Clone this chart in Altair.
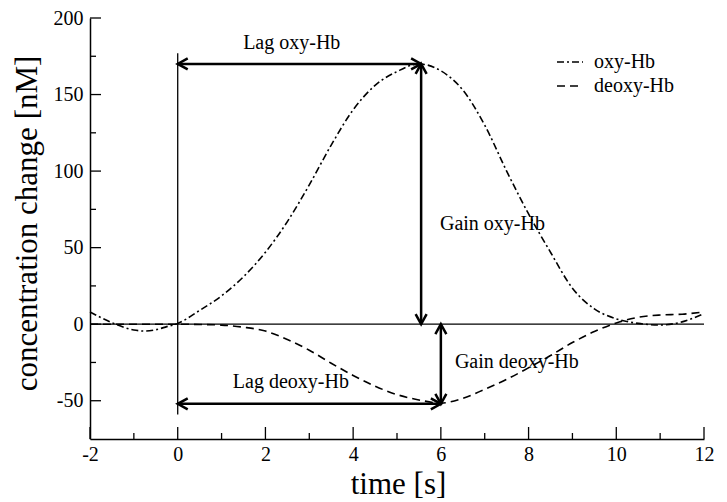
import altair as alt
import pandas as pd

# ---- data ----
t_oxy = [-2.0, -1.5, -1.0, -0.75, -0.5, -0.25, 0.0, 0.5, 1.0, 1.5, 2.0, 2.5, 3.0, 3.5, 4.0, 4.5,
         5.0, 5.5, 6.0, 6.5, 7.0, 7.5, 8.0, 8.5, 9.0, 9.5, 10.0, 10.5, 11.0, 11.5, 12.0]
oxy = [8, 1, -3.8, -4.5, -3.6, -1.6, 0.5, 9, 18.5, 31, 47, 67, 91, 117, 140, 156,
       165, 170, 165.5, 153, 130, 100, 72, 47, 23.5, 10, 3.5, 0.5, -0.5, 1.5, 7]

t_deoxy = [-2.0, -1.0, 0.0, 0.5, 1.0, 1.5, 2.0, 2.5, 3.0, 3.5, 4.0, 4.5, 5.0, 5.5, 6.0,
           6.5, 7.0, 7.5, 8.0, 8.5, 9.0, 9.5, 10.0, 10.5, 11.0, 11.5, 12.0]
deoxy = [0, 0, 0, -0.2, -0.6, -2, -4.5, -10, -17, -25.5, -33.5, -40.5, -46, -49.5, -51.5,
         -48.5, -42.5, -36, -28.5, -20.5, -12, -4.8, 0.8, 4.5, 6, 6.5, 8]

series_names = ["oxy-Hb", "deoxy-Hb"]

# double-headed arrows (start x, start y, end x, end y)
arrow_x1 = [0.0, 5.55, 6.0, 0.0]
arrow_y1 = [170.0, 170.0, 0.0, -52.0]
arrow_x2 = [5.55, 5.55, 6.0, 6.0]
arrow_y2 = [170.0, 0.0, -52.0, -52.0]

# annotations
center_labels = ["Lag oxy-Hb", "Lag deoxy-Hb"]
center_x = [2.6, 2.58]
center_y = [183.5, -37.6]
left_labels = ["Gain oxy-Hb", "Gain deoxy-Hb"]
left_x = [5.98, 6.32]
left_y = [65.5, -24.5]

# reference lines
baseline_y = [0.0]
onset_x = [0.0]
onset_y_from = [-59.0]
onset_y_to = [177.0]

# ticks
x_major = [-2, 0, 2, 4, 6, 8, 10, 12]
x_minor = [-1, 1, 3, 5, 7, 9, 11]
y_major = [-50, 0, 50, 100, 150, 200]
y_minor = [-25, 25, 75, 125, 175]

x_domain = [-2, 12]
y_domain = [-75, 200]

# ---- build tables ----
curves = pd.concat([
    pd.DataFrame({"t": t_oxy, "v": oxy, "s": series_names[0]}),
    pd.DataFrame({"t": t_deoxy, "v": deoxy, "s": series_names[1]}),
], ignore_index=True)

arrows = pd.DataFrame({"x1": arrow_x1, "y1": arrow_y1, "x2": arrow_x2, "y2": arrow_y2})

heads_rows = []
for x1, y1, x2, y2 in zip(arrow_x1, arrow_y1, arrow_x2, arrow_y2):
    for (px, py), (qx, qy) in [((x1, y1), (x2, y2)), ((x2, y2), (x1, y1))]:
        if py == qy:
            ang = 180 if px < qx else 0      # left / right
        else:
            ang = 90 if py < qy else 270     # down / up
        heads_rows.append({"x": px, "y": py, "ang": ang})
heads = pd.DataFrame(heads_rows)

FONT = "Liberation Serif"
W, H = 614, 421

xs = alt.Scale(domain=x_domain, nice=False, zero=False)
ys = alt.Scale(domain=y_domain, nice=False, zero=False)

x_axis = alt.Axis(values=x_major, labelPadding=5, labelFlush=False, labelExpr="'' + datum.value",
                  labelFont=FONT, labelFontSize=20, labelColor="black",
                  titleFont=FONT, titleFontSize=31, titleFontWeight="normal", titleColor="black",
                  titleX=308, titleY=54, titleAlign="center", titleBaseline="alphabetic", titleAngle=0)
y_axis = alt.Axis(values=y_major, labelPadding=7, labelExpr="'' + datum.value",
                  labelFont=FONT, labelFontSize=20, labelColor="black",
                  titleFont=FONT, titleFontSize=31, titleFontWeight="normal", titleColor="black",
                  titleX=-54, titleY=205, titleAlign="center", titleBaseline="alphabetic", titleAngle=270)
X_TITLE = "time [s]"
Y_TITLE = "concentration change [nM]"


def X(field):
    return alt.X(field, scale=xs, axis=x_axis, title=X_TITLE)


def Y(field):
    return alt.Y(field, scale=ys, axis=y_axis, title=Y_TITLE)


line_layer = alt.Chart(curves).mark_line(
    color="black", strokeWidth=1.6, interpolate="monotone"
).encode(
    x=X("t:Q"),
    y=Y("v:Q"),
    strokeDash=alt.StrokeDash("s:N", scale=alt.Scale(domain=series_names, range=[[7, 3, 2, 3], [8, 5]]),
                              legend=alt.Legend(title=None, orient="none", legendX=466, legendY=30,
                                                symbolType="stroke", symbolSize=676,
                                                symbolStrokeWidth=1.6, symbolStrokeColor="black",
                                                labelFont=FONT, labelFontSize=20, labelColor="black",
                                                labelOffset=10, rowPadding=0)),
    detail="s:N",
)

zero_line = alt.Chart(pd.DataFrame({"y": baseline_y})).mark_rule(color="black", strokeWidth=1.3).encode(
    y=Y("y:Q")
)

onset_line = alt.Chart(pd.DataFrame({"x": onset_x, "ya": onset_y_from, "yb": onset_y_to})).mark_rule(
    color="black", strokeWidth=1.3
).encode(
    x=X("x:Q"),
    y=Y("ya:Q"),
    y2="yb:Q",
)

arrow_lines = alt.Chart(arrows).mark_rule(color="black", strokeWidth=2.5).encode(
    x=X("x1:Q"),
    y=Y("y1:Q"),
    x2="x2:Q",
    y2="y2:Q",
)

arrow_heads = alt.Chart(heads).mark_point(
    shape="M -1 -0.55 L 0 0 L -1 0.55", filled=False, color="black", strokeWidth=2.5,
    size=400, opacity=1, strokeJoin="miter"
).encode(
    x=X("x:Q"),
    y=Y("y:Q"),
    angle=alt.Angle("ang:Q", scale=None),
)

txt_center = alt.Chart(pd.DataFrame({"x": center_x, "y": center_y, "label": center_labels})).mark_text(
    font=FONT, fontSize=20, color="black", align="center", baseline="middle"
).encode(
    x=X("x:Q"),
    y=Y("y:Q"),
    text="label:N",
)

txt_left = alt.Chart(pd.DataFrame({"x": left_x, "y": left_y, "label": left_labels})).mark_text(
    font=FONT, fontSize=20, color="black", align="left", baseline="middle"
).encode(
    x=X("x:Q"),
    y=Y("y:Q"),
    text="label:N",
)

ytick_major = alt.Chart(pd.DataFrame({"v": y_major})).mark_rule(color="black", strokeWidth=1.3).encode(
    y=Y("v:Q"), x=alt.value(0), x2=alt.value(11)
)
ytick_minor = alt.Chart(pd.DataFrame({"v": y_minor})).mark_rule(color="black", strokeWidth=1.3).encode(
    y=Y("v:Q"), x=alt.value(0), x2=alt.value(6)
)
xtick_major = alt.Chart(pd.DataFrame({"t": x_major})).mark_rule(color="black", strokeWidth=1.3).encode(
    x=X("t:Q"), y=alt.value(H), y2=alt.value(H - 12)
)
xtick_minor = alt.Chart(pd.DataFrame({"t": x_minor})).mark_rule(color="black", strokeWidth=1.3).encode(
    x=X("t:Q"), y=alt.value(H), y2=alt.value(H - 6)
)

chart = alt.layer(
    line_layer, zero_line, onset_line, arrow_lines, arrow_heads, txt_center, txt_left,
    ytick_major, ytick_minor, xtick_major, xtick_minor,
).properties(
    width=W, height=H,
    padding={"left": 82, "top": 10, "right": 15, "bottom": 60},
    autosize=alt.AutoSizeParams(type="none"),
    background="white",
).configure_view(
    stroke=None
).configure_axis(
    grid=False, domainColor="black", domainWidth=1.5, tickSize=0, ticks=False,
    labelFont=FONT, labelFontSize=20, labelColor="black",
    titleFont=FONT, titleFontSize=31, titleFontWeight="normal", titleColor="black",
)

chart.save("out.html", embed_options={"renderer": "svg", "actions": False})
